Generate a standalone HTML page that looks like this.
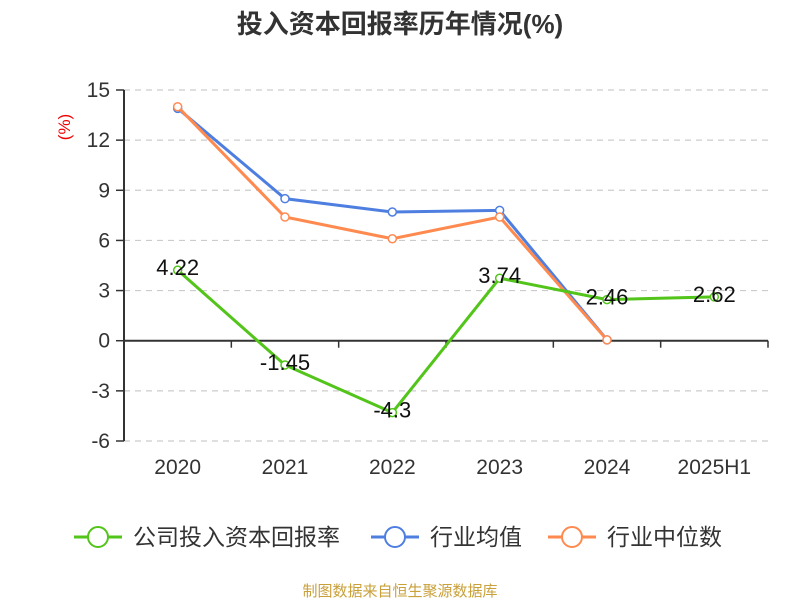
<!DOCTYPE html>
<html><head><meta charset="utf-8"><style>
body{margin:0;background:#fff;font-family:"Liberation Sans","Noto Sans CJK SC",sans-serif;}
svg text{font-family:"Liberation Sans","Noto Sans CJK SC",sans-serif;}
</style></head><body>
<svg id="c" width="800" height="600" xmlns="http://www.w3.org/2000/svg">
<text x="400" y="33" text-anchor="middle" font-size="26" font-weight="bold" fill="#333">投入资本回报率历年情况(%)</text>
<text transform="translate(70,127) rotate(-90)" text-anchor="middle" font-size="17" fill="#e00">(%)</text>
<g id="grid"></g><g id="series"></g>
<g>
<g><line x1="74" y1="537" x2="122" y2="537" stroke="#52c41a" stroke-width="3"/><circle cx="98" cy="537" r="10" fill="#fff" stroke="#52c41a" stroke-width="2"/><text x="133" y="545" font-size="23" fill="#333">公司投入资本回报率</text></g>
<g><line x1="371" y1="537" x2="419" y2="537" stroke="#4e7fe0" stroke-width="3"/><circle cx="395" cy="537" r="10" fill="#fff" stroke="#4e7fe0" stroke-width="2"/><text x="430" y="545" font-size="23" fill="#333">行业均值</text></g>
<g><line x1="548" y1="537" x2="596" y2="537" stroke="#ff8a50" stroke-width="3"/><circle cx="572" cy="537" r="10" fill="#fff" stroke="#ff8a50" stroke-width="2"/><text x="607" y="545" font-size="23" fill="#333">行业中位数</text></g>
</g>
<text x="400" y="596" text-anchor="middle" font-size="15" fill="#c9a03a">制图数据来自恒生聚源数据库</text>
</svg>
<script>
const categories=["2020","2021","2022","2023","2024","2025H1"];
const company=[4.22,-1.45,-4.3,3.74,2.46,2.62];
const companyLabels=["4.22","-1.45","-4.3","3.74","2.46","2.62"];
const industryAvg=[13.9,8.5,7.7,7.8,0.05,null];
const industryMedian=[14.0,7.4,6.1,7.4,0.05,null];
const yTicks=[15,12,9,6,3,0,-3,-6];
const NS="http://www.w3.org/2000/svg";
const x0=124,x1=768,yMin=-6,yMax=15,yTop=90,yBot=441;
const bw=(x1-x0)/categories.length;
function X(i){return x0+bw*(i+0.5);}
function Y(v){return yBot-(v-yMin)/(yMax-yMin)*(yBot-yTop);}
function mk(t,a,p){const e=document.createElementNS(NS,t);for(const k in a)e.setAttribute(k,a[k]);p.appendChild(e);return e;}
const g=document.getElementById('grid'),s=document.getElementById('series');
yTicks.forEach(v=>{
 if(v!==0){const l=mk('line',{x1:x0,x2:x1,y1:Y(v),y2:Y(v),stroke:'#ccc','stroke-dasharray':'6,5','stroke-width':1.2},g);
 
 }
 const t=mk('line',{x1:x0-8,x2:x0,y1:Y(v),y2:Y(v),stroke:'#333','stroke-width':1.5},g);
 
 
 const tx=mk('text',{x:x0-14,y:Y(v)+7,'text-anchor':'end','font-size':21,fill:'#333'},g);tx.textContent=v;
 
 
});
const ya=mk('line',{x1:x0,x2:x0,y1:yTop,y2:yBot,stroke:'#333','stroke-width':2},g);


const xa=mk('line',{x1:x0,x2:x1,y1:Y(0),y2:Y(0),stroke:'#333','stroke-width':2},g);


for(let i=0;i<=categories.length;i++){const t=mk('line',{x1:x0+bw*i,x2:x0+bw*i,y1:Y(0),y2:Y(0)+7,stroke:'#333','stroke-width':1.5},g);
 
 }
categories.forEach((c,i)=>{const t=mk('text',{x:X(i),y:474,'text-anchor':'middle','font-size':21,fill:'#333'},g);t.textContent=c;
 
 });
function line(data,color,name){
 const pts=data.map((v,i)=>v==null?null:[X(i),Y(v)]).filter(p=>p);
 const pl=mk('polyline',{points:pts.map(p=>p.join(',')).join(' '),fill:'none',stroke:color,'stroke-width':3},s);
 
 
 pts.forEach(p=>{const c=mk('circle',{cx:p[0],cy:p[1],r:4,fill:'#fff',stroke:color,'stroke-width':1.5},s);
  
  });
}
line(industryAvg,'#4e7fe0','industry-avg');
line(industryMedian,'#ff8a50','industry-median');
line(company,'#52c41a','company');
company.forEach((v,i)=>{const t=mk('text',{x:X(i),y:Y(v)+5,'text-anchor':'middle','font-size':22,fill:'#111'},s);t.textContent=companyLabels[i];
 
 });
</script>
</body></html>
